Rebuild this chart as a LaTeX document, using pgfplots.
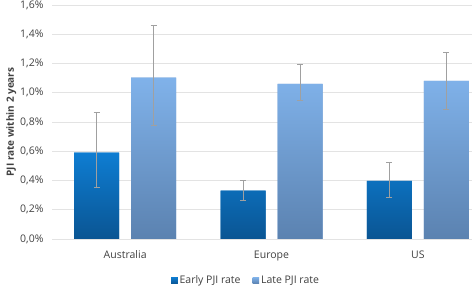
\documentclass[border=0pt]{standalone}
\usepackage{fontspec}
\setmainfont{Open Sans}
\usepackage{pgfplots}
\pgfplotsset{compat=1.18}
\definecolor{earlytop}{HTML}{0E7DD2}
\definecolor{earlybot}{HTML}{0A5593}
\definecolor{latetop}{HTML}{80B2EA}
\definecolor{latebot}{HTML}{5B82B0}
\definecolor{earlyleg}{HTML}{0B6AB5}
\definecolor{lateleg}{HTML}{6E9BD3}
\definecolor{gridc}{HTML}{E3E3E3}
\definecolor{errc}{HTML}{A0A0A0}
\definecolor{txt}{HTML}{404040}
\begin{document}
\begin{tikzpicture}
\begin{axis}[
  name=ax,
  scale only axis,
  width=420pt, height=234pt,
  xmin=-0.5, xmax=2.37,
  ymin=0, ymax=1.6,
  ytick={0,0.2,...,1.6},
  yticklabels={0{,}0\%,0{,}2\%,0{,}4\%,0{,}6\%,0{,}8\%,1{,}0\%,1{,}2\%,1{,}4\%,1{,}6\%},
  xtick={0,1,2},
  xticklabels={Australia,Europe,US},
  ymajorgrids,
  grid style={gridc, line width=0.8pt},
  axis line style={draw=none},
  axis x line*=bottom,
  x axis line style={gridc, line width=0.8pt},
  major tick length=0pt,
  tick label style={font=\fontsize{10.5}{12}\selectfont, text=txt},
  yticklabel style={xshift=-5pt},
  xticklabel style={yshift=-8pt},
  ylabel={\textbf{PJI rate within 2 years}},
  ylabel style={font=\fontsize{10}{12}\selectfont, text=txt, yshift=-3pt},
  ybar, bar width=45pt,
  legend style={draw=none, at={(0.462,-0.178)}, anchor=center, legend columns=2,
    font=\fontsize{10.5}{12}\selectfont, text=txt, /tikz/every even column/.append style={column sep=10pt}},
  legend image code/.code={\fill[#1] (0pt,-3pt) rectangle (6.5pt,3.5pt);},
  error bars/y dir=both, error bars/y explicit,
  error bars/error bar style={errc, line width=1pt},
  error bars/error mark options={rotate=90, mark size=3pt, errc, line width=1pt},
  clip=false,
]
\addplot[draw=none, top color=earlytop, bottom color=earlybot, bar shift=-28.5pt, fill=earlyleg]
  coordinates {
   (0,0.590) += (0,0.274) -= (0,0.241)
   (1,0.330) += (0,0.070) -= (0,0.066)
   (2,0.398) += (0,0.123) -= (0,0.111)
  };
\addplot[draw=none, top color=latetop, bottom color=latebot, bar shift=28.5pt, fill=lateleg]
  coordinates {
   (0,1.103) += (0,0.358) -= (0,0.324)
   (1,1.060) += (0,0.135) -= (0,0.113)
   (2,1.081) += (0,0.195) -= (0,0.196)
  };
\legend{Early PJI rate, Late PJI rate}
\end{axis}
\pgfresetboundingbox
\path[use as bounding box] ([xshift=-52pt,yshift=-47pt]ax.south west) rectangle ([yshift=5pt]ax.north east);
\end{tikzpicture}
\end{document}
